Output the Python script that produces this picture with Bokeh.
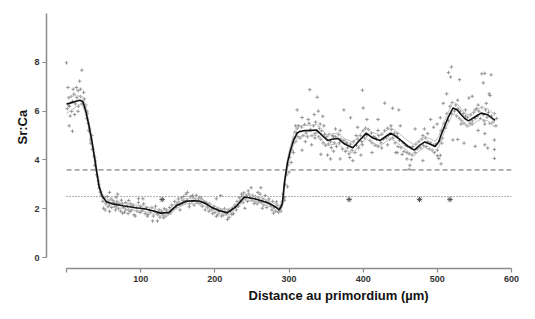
from bokeh.plotting import figure
from bokeh.models import Range1d, FixedTicker, Title
from bokeh.embed import file_html
from bokeh.resources import INLINE

# ---------------- data ----------------
x_ticks = [0, 100, 200, 300, 400, 500, 600]
y_ticks = [0, 2, 4, 6, 8]
x_title = "Distance au primordium (µm)"
y_title = "Sr:Ca"

threshold_high = 3.59
threshold_low = 2.5
threshold_x = [0, 600]

star_x = [129, 381, 476, 517]
star_y = [2.38, 2.38, 2.38, 2.38]

curve_x = [0, 7, 14, 18, 22, 26, 30, 34, 38, 41, 44, 48, 54, 62, 76, 93, 105, 116, 127, 138,
           148, 160, 170, 179, 188, 196, 206, 217, 228, 240, 252, 264, 276, 283, 287, 291, 294, 298, 302, 306,
           311, 314, 320, 328, 337, 345, 352, 358, 366, 375, 386, 395, 404, 413, 423, 430, 437, 445, 453, 461,
           469, 476, 483, 490, 497, 502, 506, 514, 521, 527, 532, 537, 542, 550, 559, 568, 575, 578]
curve_y = [6.29, 6.35, 6.42, 6.45, 6.4, 6.0, 5.45, 4.8, 4.05, 3.45, 2.9, 2.52, 2.28, 2.2, 2.12, 2.04, 2.0, 1.92, 1.82, 1.85,
           2.12, 2.3, 2.33, 2.32, 2.2, 2.05, 1.92, 1.84, 2.07, 2.48, 2.42, 2.32, 2.18, 2.05, 1.95, 2.2, 3.1, 3.9, 4.4, 4.8,
           5.1, 5.16, 5.2, 5.2, 5.23, 5.0, 4.8, 4.85, 4.88, 4.65, 4.5, 4.8, 5.1, 4.9, 4.8, 4.95, 5.1, 4.95, 4.75, 4.55,
           4.4, 4.6, 4.74, 4.65, 4.55, 4.75, 5.1, 5.7, 6.13, 6.05, 5.86, 5.7, 5.6, 5.75, 5.92, 5.85, 5.68, 5.63]
upper_y = [6.55, 6.62, 6.63, 6.62, 6.56, 6.15, 5.6, 4.95, 4.2, 3.58, 3.02, 2.63, 2.39, 2.31, 2.23, 2.15, 2.11, 2.03, 1.93, 1.96,
           2.23, 2.41, 2.44, 2.43, 2.31, 2.16, 2.03, 1.95, 2.18, 2.59, 2.53, 2.43, 2.29, 2.17, 2.08, 2.35, 3.25, 4.05, 4.58, 5.0,
           5.32, 5.38, 5.42, 5.42, 5.45, 5.22, 5.02, 5.07, 5.1, 4.87, 4.72, 5.02, 5.32, 5.12, 5.02, 5.17, 5.32, 5.17, 4.97, 4.77,
           4.62, 4.82, 4.96, 4.87, 4.77, 4.97, 5.32, 5.92, 6.37, 6.29, 6.1, 5.94, 5.84, 5.99, 6.16, 6.1, 5.92, 5.9]
lower_y = [5.9, 6.05, 6.2, 6.28, 6.24, 5.85, 5.3, 4.65, 3.9, 3.32, 2.78, 2.41, 2.17, 2.09, 2.01, 1.93, 1.89, 1.81, 1.71, 1.74,
           2.01, 2.19, 2.22, 2.21, 2.09, 1.94, 1.81, 1.73, 1.96, 2.37, 2.31, 2.21, 2.07, 1.93, 1.82, 2.05, 2.95, 3.75, 4.22, 4.6,
           4.88, 4.94, 4.98, 4.98, 5.01, 4.78, 4.58, 4.63, 4.66, 4.43, 4.28, 4.58, 4.88, 4.68, 4.58, 4.73, 4.88, 4.73, 4.53, 4.33,
           4.18, 4.38, 4.52, 4.43, 4.33, 4.53, 4.88, 5.48, 5.89, 5.81, 5.62, 5.46, 5.36, 5.51, 5.68, 5.6, 5.4, 5.36]

# scatter measurements, read region by region
pts_juvenile = [(0, 7.98), (20.7, 7.68), (17.7, 7.23), (2, 6.97), (9, 6.9), (13.4, 6.97), (15.5, 6.84), (19, 6.9),
                (23, 6.77), (2.7, 6.25), (5, 5.8), (7, 5.99), (11, 5.86), (15.5, 5.99), (3.6, 5.4), (8, 5.18),
                (26, 6.25), (27.5, 6.0), (29.7, 5.2), (32.6, 4.69), (34.8, 4.43), (37, 4.17), (32.6, 4.82), (37.8, 3.78),
                (40.4, 3.39), (43.4, 3.0), (45.5, 2.67), (50, 2.47), (56, 2.08), (52, 1.95), (69, 2.6), (75.6, 2.21),
                (80, 1.95), (86, 1.89), (62.7, 2.34), (67, 2.08),
                (1, 6.1), (3, 6.55), (4, 6.2), (6, 6.6), (8, 6.4), (10, 6.7), (12, 6.3), (14, 6.55), (16, 6.2),
                (19, 6.6), (21, 6.3), (24, 6.5), (25, 6.15), (27, 5.7), (28, 5.9), (29, 5.5), (31, 5.3), (33, 4.9),
                (34, 5.0), (36, 4.45), (38, 4.1), (39, 3.95), (40, 3.6), (42, 3.3), (43, 3.15), (44, 2.85), (46, 2.7),
                (47, 2.55), (49, 2.3), (51, 2.45), (53, 2.2), (55, 2.5)]
pts_freshwater = [(58, 2.67), (67, 2.47), (84, 2.34), (97, 2.41), (103, 2.41), (50, 2.02), (58, 1.89), (75.6, 1.82),
                  (84, 1.95), (101, 1.89), (110, 1.76), (122.6, 1.76), (131, 1.63), (116, 1.5), (140, 1.82), (148, 2.15),
                  (157, 2.34), (163, 2.67), (170, 2.54), (178, 2.41), (153, 1.95), (165.5, 2.08), (88.4, 2.15), (67, 2.21),
                  (92.7, 1.7), (122.6, 1.5), (180, 2.47), (202, 2.41), (208, 2.54), (189, 2.21), (198, 2.02), (206, 1.89),
                  (215, 1.82), (202, 1.69), (217, 1.56), (223, 1.76), (234, 2.28), (236, 2.6), (245, 2.73), (249, 2.86),
                  (258, 2.67), (262, 2.86), (268, 2.54), (253, 2.21), (275, 2.15), (283, 2.28), (279, 1.82), (285.5, 1.89),
                  (290, 2.15), (294, 2.47), (228, 2.08), (240.5, 2.02), (264, 2.02),
                  (56, 2.3), (58, 2.15), (60, 2.4), (61, 2.05), (63, 2.25), (65, 2.1), (66, 1.95), (68, 2.3), (70, 2.0),
                  (71, 2.2), (73, 1.9), (74, 2.35), (77, 2.05), (78, 1.85), (80, 2.25), (82, 2.1), (83, 1.8), (86, 2.2),
                  (88, 1.95), (90, 2.15), (91, 1.75), (94, 2.05), (95, 1.9), (97, 2.25), (99, 1.85), (100, 2.1),
                  (103, 1.95), (104, 2.2), (106, 1.8), (108, 2.05), (109, 1.7), (112, 1.95), (113, 1.85), (115, 2.05),
                  (117, 1.7), (119, 1.9), (120, 2.1), (123, 1.8), (125, 1.95), (126, 1.65), (128, 1.9), (130, 1.75),
                  (132, 2.0), (134, 1.7), (135, 1.95), (137, 1.8), (139, 2.05), (141, 1.9), (142, 2.15), (144, 2.0),
                  (146, 2.3), (148, 2.05), (150, 2.25), (151, 2.4), (153, 2.15), (155, 2.45), (156, 2.2), (158, 2.5),
                  (160, 2.25), (161, 2.6), (163, 2.35), (166, 2.2), (167, 2.5), (169, 2.3), (171, 2.45), (172, 2.15),
                  (174, 2.35), (175, 2.55), (177, 2.25), (180, 2.2), (182, 2.4), (183, 2.1), (185, 2.3), (187, 1.95),
                  (188, 2.25), (190, 2.05), (192, 1.9), (193, 2.2), (195, 1.95), (197, 1.8), (199, 2.1), (200, 1.85),
                  (203, 2.0), (204, 1.75), (207, 1.95), (209, 1.7), (210, 1.9), (212, 1.75), (213, 2.0), (216, 1.8),
                  (218, 1.95), (219, 1.65), (221, 1.9), (224, 2.0), (225, 1.8), (227, 2.15), (229, 1.95), (230, 2.3),
                  (232, 2.1), (233, 2.45), (235, 2.35), (237, 2.5), (238, 2.25), (239, 2.65), (241, 2.4), (243, 2.55),
                  (244, 2.3), (246, 2.6), (247, 2.45), (250, 2.35), (251, 2.55), (254, 2.3), (255, 2.5), (257, 2.2),
                  (259, 2.45), (260, 2.3), (261, 2.6), (263, 2.25), (265, 2.4), (266, 2.15), (269, 2.3), (270, 2.05),
                  (272, 2.25), (273, 2.4), (276, 2.1), (277, 1.95), (278, 2.3), (280, 2.05), (282, 1.9), (284, 2.15),
                  (286, 1.85), (288, 2.05), (289, 1.9), (291, 2.3)]
pts_transition = [(292, 2.6), (294, 2.35), (295, 3.0), (297, 3.4), (298, 2.9), (299, 3.8), (300, 3.5), (301, 4.1),
                  (303, 3.9), (304, 4.4), (305, 4.7), (306, 4.3), (307, 4.9), (309, 4.75), (310, 5.1), (311, 5.3),
                  (312, 4.95), (313, 5.4)]
pts_marine = [(328, 6.88), (338, 6.57), (399, 6.86), (311, 6.05), (339.5, 6.0), (374, 6.05), (400, 6.13), (429, 6.33),
              (345.5, 5.79), (383, 5.73), (334, 5.86), (317.6, 5.74), (326, 5.66), (309, 5.4), (308, 5.14), (342, 5.47),
              (347, 5.4), (369, 5.21), (392.5, 5.34), (405, 5.66), (420, 5.66), (420, 5.21), (437.5, 5.4), (322, 4.75),
              (330.5, 4.62), (317.6, 4.4), (343, 4.23), (352, 4.2), (360, 4.36), (356, 4.04), (369, 4.04), (382, 4.1),
              (386, 3.97), (397, 4.2), (412, 4.3), (425, 4.49), (433, 4.62), (444, 4.3), (378, 4.69), (399, 4.62),
              (360, 4.95), (390.5, 5.0), (416, 4.92), (335, 5.08), (362.6, 5.27),
              (519, 7.81), (515, 7.58), (518, 7.4), (530, 7.29), (560, 7.53), (564, 7.55), (572.5, 7.49), (562, 7.16),
              (570, 6.71), (571, 6.64), (512.6, 6.71), (527.5, 6.45), (542.5, 6.54), (547, 6.61), (508, 6.32),
              (566, 6.32), (555, 6.25), (538, 6.05), (551, 6.05), (504, 5.73), (491, 5.66), (499.7, 5.47), (532, 5.47),
              (547, 5.47), (564, 5.47), (450, 5.4), (439.7, 6.12), (448, 6.05), (470, 5.27), (482.5, 5.27), (495, 5.34),
              (480.5, 5.0), (487, 5.08), (521, 4.82), (527.5, 4.84), (536, 4.69), (551, 4.56), (564, 4.62), (577, 4.43),
              (568, 4.49), (577, 4.82), (564, 5.08), (555, 5.21), (446, 4.3), (452.5, 4.23), (459, 4.04), (465, 4.01),
              (480.5, 3.97), (500, 4.17), (504, 4.19), (502, 4.06), (506, 4.69), (577, 4.06), (446, 5.08), (463, 3.78),
              (462, 3.62), (505, 3.84),
              (315, 4.9), (317, 5.35), (319, 5.0), (321, 5.45), (323, 5.1), (325, 4.95), (327, 5.5), (329, 5.25),
              (331, 5.0), (333, 5.4), (335, 4.9), (336, 5.55), (338, 5.15), (340, 4.95), (341, 5.3), (343, 4.85),
              (344, 5.2), (346, 4.7), (348, 5.05), (349, 4.6), (351, 4.95), (353, 4.65), (354, 5.05), (356, 4.75),
              (357, 4.5), (359, 5.0), (361, 4.7), (363, 4.95), (364, 4.55), (367, 5.05), (368, 4.7), (370, 4.85),
              (372, 4.45), (374, 4.8), (376, 4.35), (377, 4.7), (379, 4.5), (381, 4.25), (383, 4.65), (385, 4.4),
              (387, 4.75), (389, 4.3), (391, 4.6), (393, 4.85), (394, 4.5), (396, 5.0), (398, 4.75), (400, 5.2),
              (402, 4.9), (403, 5.3), (405, 5.0), (407, 5.25), (409, 4.8), (411, 5.1), (412, 4.7), (414, 4.95),
              (416, 4.6), (418, 4.85), (420, 4.55), (421, 5.0), (424, 4.7), (425, 5.05), (427, 4.85), (429, 5.2),
              (431, 4.9), (433, 5.3), (434, 5.0), (436, 4.85), (438, 5.25), (440, 4.9), (442, 5.1), (443, 4.7),
              (446, 4.95), (447, 4.55), (449, 4.8), (451, 4.5), (454, 4.7), (455, 4.35), (457, 4.6), (459, 4.3),
              (460, 4.55), (462, 4.25), (464, 4.5), (466, 4.2), (467, 4.55), (470, 4.3), (471, 4.65), (473, 4.45),
              (475, 4.75), (477, 4.5), (479, 4.85), (481, 4.6), (484, 4.9), (485, 4.55), (487, 4.75), (489, 4.45),
              (491, 4.7), (493, 4.4), (495, 4.6), (496, 4.3), (498, 4.65), (500, 4.4), (503, 4.8), (505, 5.2),
              (507, 4.9), (509, 5.5), (511, 5.3), (513, 5.9), (515, 5.6), (517, 6.2), (519, 5.9), (520, 6.35),
              (523, 6.0), (525, 6.25), (526, 5.8), (528, 6.1), (530, 5.7), (531, 6.0), (533, 5.6), (535, 5.9),
              (536, 5.5), (538, 5.8), (540, 5.4), (541, 5.75), (544, 5.5), (545, 5.85), (547, 5.6), (549, 5.95),
              (551, 5.7), (553, 6.1), (554, 5.8), (556, 6.0), (558, 5.7), (560, 6.15), (562, 5.85), (563, 5.6),
              (565, 6.05), (567, 5.75), (569, 5.95), (571, 5.5), (573, 5.8), (575, 5.55), (577, 5.9), (579, 5.4),
              (580, 5.7)]

all_pts = pts_juvenile + pts_freshwater + pts_transition + pts_marine
scatter_x = [p_[0] for p_ in all_pts]
scatter_y = [p_[1] for p_ in all_pts]

# ---------------- figure ----------------
FONT = "Liberation Sans"
p = figure(width=519, height=303, x_range=Range1d(-27, 600), y_range=Range1d(-0.45, 10.29),
           output_backend="svg", toolbar_location=None,
           min_border_left=46, min_border_right=8, min_border_top=6, min_border_bottom=34)
p.outline_line_color = None
p.xgrid.visible = False
p.ygrid.visible = False
p.background_fill_color = "white"
p.border_fill_color = "white"

# thresholds
p.line(threshold_x, [threshold_high] * 2, line_color="#606060", line_width=1, line_dash="5 3")
p.line(threshold_x, [threshold_low] * 2, line_color="#606060", line_width=1, line_dash="1 2")

# data points
p.scatter(scatter_x, scatter_y, marker="cross", size=3.5, line_color="#8c8c8c", line_width=0.9)

# confidence bands and smooth
p.line(curve_x, upper_y, line_color="#bdbdbd", line_width=1)
p.line(curve_x, lower_y, line_color="#bdbdbd", line_width=1)
p.line(curve_x, curve_y, line_color="#111111", line_width=1.6)

# significance stars
p.scatter(star_x, star_y, marker="asterisk", size=5.5, line_color="#555555", line_width=1)

# axes
for ax in (p.xaxis[0], p.yaxis[0]):
    ax.axis_line_color = "#8a8a8a"
    ax.axis_line_width = 1.5
    ax.major_tick_line_color = "#8a8a8a"
    ax.major_tick_line_width = 1.2
    ax.major_tick_in = 0
    ax.major_tick_out = 4
    ax.minor_tick_line_color = None
    ax.major_label_text_font = FONT
    ax.major_label_text_font_style = "bold"
    ax.major_label_text_font_size = "9px"
    ax.major_label_text_color = "#333333"
    ax.major_label_standoff = 3

p.xaxis[0].ticker = FixedTicker(ticks=x_ticks)
p.xaxis[0].major_label_overrides = {0: ""}
p.xaxis[0].bounds = (0, 600)

p.yaxis[0].ticker = FixedTicker(ticks=y_ticks)
p.yaxis[0].bounds = (0, 10)

# axis titles (placed off-centre as in the original)
xt = Title(text=x_title, align="left", offset=202, text_font=FONT, text_font_size="13px",
           text_font_style="bold", text_color="#111111", standoff=2)
p.add_layout(xt, "below")
yt = Title(text=y_title, align="left", offset=124, text_font=FONT, text_font_size="13px",
           text_font_style="bold", text_color="#111111", standoff=4)
p.add_layout(yt, "left")

open("out.html", "w").write(file_html(p, INLINE))
